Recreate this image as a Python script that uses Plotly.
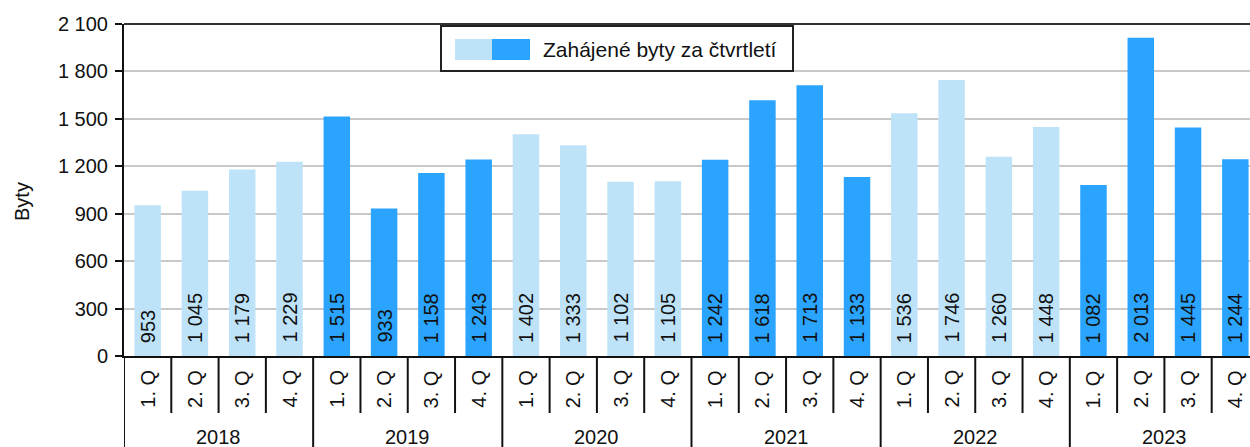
import plotly.graph_objects as go

years = ["2018", "2019", "2020", "2021", "2022", "2023"]
quarters = ["1. Q", "2. Q", "3. Q", "4. Q"]
values_2018 = [953, 1045, 1179, 1229]
values_2019 = [1515, 933, 1158, 1243]
values_2020 = [1402, 1333, 1102, 1105]
values_2021 = [1242, 1618, 1713, 1133]
values_2022 = [1536, 1746, 1260, 1448]
values_2023 = [1082, 2013, 1445, 1244]
year_values = [values_2018, values_2019, values_2020, values_2021, values_2022, values_2023]
y_ticks = [0, 300, 600, 900, 1200, 1500, 1800, 2100]
legend_text = "Zahájené byty za čtvrtletí"
y_title = "Byty"

LIGHT = "#BEE3F8"
DARK = "#2AA4FE"
FONT = "Liberation Sans, Arial, sans-serif"
FS = 20

cats, vals, cols = [], [], []
for i, (yr, vs) in enumerate(zip(years, year_values)):
    for q, v in zip(quarters, vs):
        cats.append(f"{yr} {q}")
        vals.append(v)
        cols.append(LIGHT if i % 2 == 0 else DARK)

def fmt(v):
    return f"{v:,}".replace(",", " ")

fig = go.Figure(go.Bar(x=cats, y=vals, marker=dict(color=cols, line=dict(width=0)),
                       width=0.56, hoverinfo="skip", showlegend=False))

W, H = 1250, 447
L, T, B = 124, 24, 91
ph = H - T - B

def py(px):
    return (H - B - px) / ph

def pxr(px):
    return (px - L) / (W - L)

ann = []
shapes = []
# bar value labels
for c, v in zip(cats, vals):
    ann.append(dict(x=c, y=0, xref="x", yref="y", text=fmt(v), textangle=-90,
                    showarrow=False, yanchor="bottom", xanchor="center", yshift=11,
                    font=dict(family=FONT, size=FS, color="#111")))
# quarter labels and separators
n = len(cats)
for i, c in enumerate(cats):
    ann.append(dict(x=c, y=py(389), xref="x", yref="paper", text=quarters[i % 4],
                    textangle=-90, showarrow=False, yanchor="middle", xanchor="center",
                    font=dict(family=FONT, size=FS, color="#111")))
for k in range(n):
    xs = k - 0.5
    if k % 4 == 0:
        y1 = py(447)
    else:
        y1 = py(413)
    shapes.append(dict(type="line", xref="x", yref="paper", x0=xs, x1=xs, y0=0, y1=y1,
                       line=dict(color="#111", width=2)))
shapes.append(dict(type="line", xref="x", yref="paper", x0=n - 0.5, x1=n - 0.5, y0=0, y1=py(447),
                   line=dict(color="#111", width=2)))
# year labels
for i, yr in enumerate(years):
    ann.append(dict(x=4 * i + 1.5, y=py(437), xref="x", yref="paper", text=yr,
                    showarrow=False, yanchor="middle", xanchor="center",
                    font=dict(family=FONT, size=FS, color="#111")))
# top border
shapes.append(dict(type="line", xref="paper", yref="paper", x0=0, x1=1, y0=1, y1=1,
                   line=dict(color="#333", width=2)))
# legend box
shapes.append(dict(type="rect", xref="paper", yref="paper", x0=pxr(441), x1=pxr(793),
                   y0=py(71), y1=py(26), fillcolor="white", line=dict(color="#222", width=2)))
shapes.append(dict(type="rect", xref="paper", yref="paper", x0=pxr(455), x1=pxr(492),
                   y0=py(60), y1=py(39), fillcolor=LIGHT, line=dict(width=0)))
shapes.append(dict(type="rect", xref="paper", yref="paper", x0=pxr(492), x1=pxr(530),
                   y0=py(60), y1=py(39), fillcolor=DARK, line=dict(width=0)))
ann.append(dict(x=pxr(541), y=py(49), xref="paper", yref="paper", text=legend_text,
                showarrow=False, xanchor="left", yanchor="middle",
                font=dict(family=FONT, size=21, color="#111")))
# y title
ann.append(dict(x=pxr(22), y=py(202), xref="paper", yref="paper", text=y_title, textangle=-90,
                showarrow=False, xanchor="center", yanchor="middle",
                font=dict(family=FONT, size=FS, color="#111")))

fig.update_layout(
    width=W, height=H,
    margin=dict(l=L, r=0, t=T, b=B, pad=0),
    plot_bgcolor="white", paper_bgcolor="white",
    separators=", ",
    annotations=ann, shapes=shapes,
    xaxis=dict(type="category", range=[-0.5, 23.31], showticklabels=False, ticks="",
               showgrid=False, showline=True, linecolor="#111", linewidth=2, zeroline=False),
    yaxis=dict(range=[0, 2100], tickvals=y_ticks, ticktext=[fmt(t) for t in y_ticks],
               ticks="outside", ticklen=7, tickwidth=2, tickcolor="#111",
               ticklabelstandoff=3,
               tickfont=dict(family=FONT, size=FS, color="#111"),
               showgrid=True, gridcolor="#C8C8C8", gridwidth=1.5,
               showline=True, linecolor="#111", linewidth=2, zeroline=False),
)

fig.write_html("out.html", config={"displayModeBar": False},
               post_script="document.body.style.margin='0';document.body.style.overflow='hidden';")
